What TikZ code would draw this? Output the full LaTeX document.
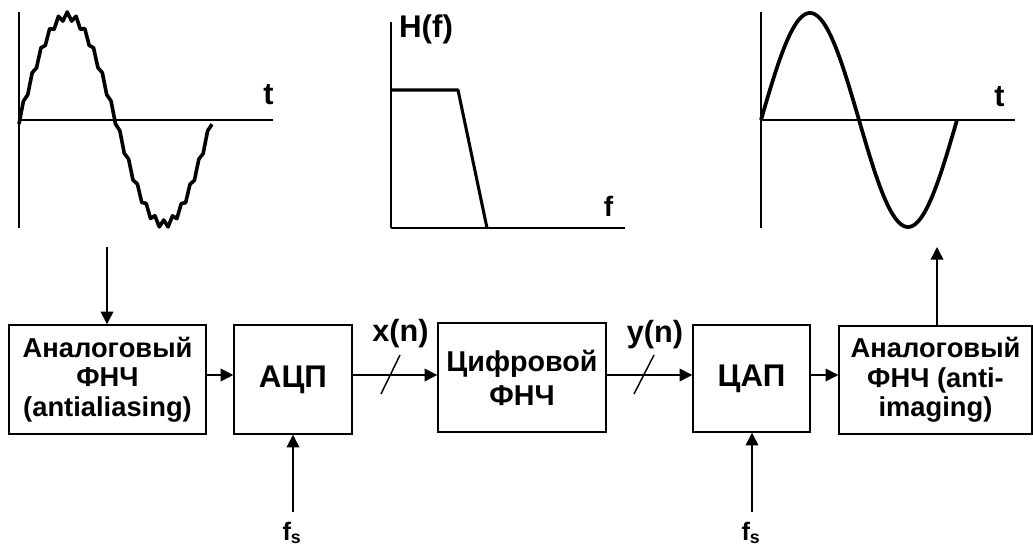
\documentclass[tikz,border=0pt]{standalone}
\usepackage{fontspec}
\setmainfont{Liberation Sans}
\usetikzlibrary{arrows.meta}
\begin{document}
\begin{tikzpicture}[x=0.75pt,y=-0.75pt,
  blk/.style={draw,line width=1.1pt,inner sep=0pt,align=center},
  arr/.style={line width=1.1pt,-{Triangle[length=9.5pt,width=9.5pt]}},
  ax/.style={line width=1.1pt},
  sig/.style={line width=2.7pt,line join=round},
  small/.style={font=\fontsize{20.5}{22}\selectfont\bfseries},
  lbl/.style={inner sep=0pt}
]
\useasboundingbox (0,0) rectangle (1033,548);
% blocks
\node[blk,small,minimum width=197*0.75pt,minimum height=109*0.75pt] (b1) at (107.5,379.5) {Аналоговый\\ФНЧ\\(antialiasing)};
\node[blk,font=\fontsize{23.5}{26}\selectfont\bfseries,minimum width=118*0.75pt,minimum height=109*0.75pt] (b2) at (293,379.5) {АЦП};
\node[blk,font=\fontsize{21.5}{25.5}\selectfont\bfseries,minimum width=168*0.75pt,minimum height=109*0.75pt] (b3) at (522,377.5) {Цифровой\\ФНЧ};
\node[blk,font=\fontsize{23.5}{26}\selectfont\bfseries,minimum width=117*0.75pt,minimum height=107*0.75pt] (b4) at (751.5,378.5) {ЦАП};
\node[blk,small,minimum width=193*0.75pt,minimum height=108*0.75pt] (b5) at (935.5,380) {Аналоговый\\ФНЧ (anti-\\imaging)};
% arrows between blocks
\coordinate (ly) at (0,375);
\draw[arr] (b1.east |- ly) -- (b2.west |- ly);
\draw[arr] (b2.east |- ly) -- (b3.west |- ly);
\draw[arr] (b3.east |- ly) -- (b4.west |- ly);
\draw[arr] (b4.east |- ly) -- (b5.west |- ly);
% bus slashes
\draw[line width=1.1pt] (381,394) -- (400,355);
\draw[line width=1.1pt] (634,394) -- (654,355);
\node[lbl,font=\fontsize{23}{26}\selectfont\bfseries] (xn) at (400.5,334) {x(n)};
\node[lbl,font=\fontsize{23}{26}\selectfont\bfseries] (yn) at (655,335) {y(n)};
% sampling clocks
\node[lbl,font=\fontsize{19}{22}\selectfont\bfseries] (fs1) at (292,533) {f\textsubscript{s}};
\node[lbl,font=\fontsize{19}{22}\selectfont\bfseries] (fs2) at (751,533) {f\textsubscript{s}};
\coordinate (c1) at (293,512);
\coordinate (c2) at (752,512);
\draw[arr] (c1) -- (b2.south -| c1);
\draw[arr] (c2) -- (b4.south -| c2);
% input / output arrows
\coordinate (in1) at (107,247);
\coordinate (out1) at (937,247);
\draw[arr] (in1) -- (b1.north -| in1);
\draw[arr] (b5.north -| out1) -- (out1);
% graph 1: sampled input
\draw[ax] (19,12) -- (19,228);
\draw[ax] (19,120) -- (273,120);
\node[lbl,font=\fontsize{23}{26}\selectfont\bfseries] (t1) at (268.5,95) {t};
\draw[sig] plot[domain=0:1,samples=45] ({19+193*\x},{120-104*sin(360*\x)+4*cos(180*44*\x)});
% graph 2: filter response
\draw[ax] (391,22) -- (391,228);
\draw[ax] (391,228) -- (625,228);
\node[lbl,font=\fontsize{23.5}{26}\selectfont\bfseries] (hf) at (426,29) {H(f)};
\node[lbl,font=\fontsize{21}{24}\selectfont\bfseries] (fl) at (608.5,206) {f};
\draw[sig,line width=2.3pt] (391,90) -- (458,90) -- (487,228);
% graph 3: reconstructed output
\draw[ax] (761,12) -- (761,228);
\draw[ax] (761,120) -- (1015,120);
\node[lbl,font=\fontsize{23}{26}\selectfont\bfseries] (t3) at (999.5,97) {t};
\draw[sig,line width=2.8pt] plot[domain=0:1,samples=120,smooth] ({761+196*\x},{120-107*sin(360*\x)});
\end{tikzpicture}
\end{document}
